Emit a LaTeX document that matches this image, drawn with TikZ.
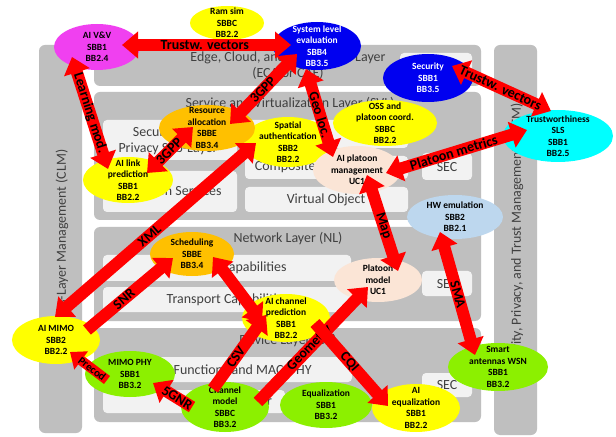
\documentclass[tikz,border=0pt]{standalone}
\usepackage{fontspec}
\setmainfont{Carlito}
\usetikzlibrary{arrows.meta,shapes.geometric}

\definecolor{panelgray}{RGB}{191,191,191}
\definecolor{celllight}{RGB}{242,242,242}
\definecolor{layink}{RGB}{64,64,64}
\definecolor{cyel}{RGB}{255,255,0}
\definecolor{corange}{RGB}{255,192,0}
\definecolor{cgreen}{RGB}{140,240,0}
\definecolor{cblue}{RGB}{0,0,240}
\definecolor{cmag}{RGB}{240,64,240}
\definecolor{ccyan}{RGB}{0,255,255}
\definecolor{cpeach}{RGB}{251,229,214}
\definecolor{cltblue}{RGB}{189,215,238}
\definecolor{cred}{RGB}{255,0,0}

\begin{document}
\begin{tikzpicture}[x=1bp, y=-1bp,
  panel/.style={fill=panelgray, rounded corners=6bp},
  cell/.style={fill=celllight, rounded corners=4bp},
  laytext/.style={text=layink, font=\fontsize{14}{16}\selectfont, align=center, inner sep=0pt},
  ell/.style={ellipse, draw=none, inner sep=0pt},
  ntext/.style={font=\fontsize{9.5}{11.5}\selectfont\bfseries, align=center, inner sep=0pt},
  link/.style={draw=cred, line width=12bp},
  twoway/.style={link, {Triangle[width=26bp,length=16bp]}-{Triangle[width=26bp,length=16bp]}},
  oneway/.style={link, -{Triangle[width=26bp,length=16bp]}},
  arrtag/.style={font=\fontsize{14}{14}\selectfont\bfseries, sloped, inner sep=0pt, text=black},
]
\fill[white] (0,0) rectangle (616,437);
\useasboundingbox (0,0) rectangle (616,437);

% ---- side management columns ----
\fill[panel] (39,45) rectangle (82,433);
\fill[panel] (494,45) rectangle (537,435);
\node[laytext, rotate=90] (clm) at (62,240) {Cross-Layer Management (CLM)};
\node[laytext, rotate=90] (sptm) at (517,240) {Security, Privacy, and Trust Management (SPTM)};

% ---- edge / cloud / application layer ----
\fill[panel] (94,45) rectangle (481,86);
\fill[cell] (400,53) rectangle (472,83);
\node[laytext] (eca) at (288,66) {Edge, Cloud, and Application Layer\\(ECA or CAE)};

% ---- service and virtualization layer ----
\fill[panel] (94,92) rectangle (481,220);
\node[laytext] (svl) at (290,104) {Service and Virtualization Layer (SVL)};
\fill[cell] (103,120) rectangle (237,160);
\node[laytext] (spsl) at (168,141) {Security and\\Privacy Sub-Layer};
\fill[cell] (103,171) rectangle (237,212);
\node[laytext] (aps) at (165,192) {Application Services};
\fill[cell] (245,120) rectangle (408,148);
\fill[cell] (245,156) rectangle (408,179);
\node[laytext] (cvo) at (326,167) {Composite Virtual Object};
\fill[cell] (245,187) rectangle (408,212);
\node[laytext] (vo) at (326,200) {Virtual Object};
\fill[cell] (422,153) rectangle (472,180);
\node[laytext] (sec1) at (447,167) {SEC};

% ---- network layer ----
\fill[panel] (94,227) rectangle (481,321);
\node[laytext] (nl) at (288,239) {Network Layer (NL)};
\fill[cell] (103,255) rectangle (351,281);
\node[laytext] (ncap) at (228,268) {Network Capabilities};
\fill[cell] (103,287) rectangle (351,312);
\node[laytext] (tcap) at (228,300) {Transport Capabilities};
\fill[cell] (422,271) rectangle (472,296);
\node[laytext] (sec2) at (447,284) {SEC};

% ---- device layer ----
\fill[panel] (94,328) rectangle (481,422);
\node[laytext] (dl) at (288,341) {Device Layer (DL)};
\fill[cell] (103,357) rectangle (352,382);
\node[laytext] (fmac) at (225,370) {Radio Functions and MAC/PHY};
\fill[cell] (103,390) rectangle (285,413);
\node[laytext] (trx) at (240,401) {Transceiver};
\fill[cell] (422,373) rectangle (472,397);
\node[laytext] (sec3) at (447,385) {SEC};

% ---- building blocks ----
\node[ell, fill=cmag, minimum width=86bp, minimum height=46bp] (avv) at (97,47) {};
\node[ntext] (avv-t) at (avv) {AI V\&V\\SBB1\\BB2.4};
\node[ell, fill=cyel, minimum width=74bp, minimum height=34bp] (ram) at (227,23) {};
\node[ntext] (ram-t) at (ram) {Ram sim\\SBBC\\BB2.2};
\node[ell, fill=cblue, minimum width=88bp, minimum height=48bp] (sle) at (317,46) {};
\node[ntext, text=white] (sle-t) at (sle) {System level\\evaluation\\SBB4\\BB3.5};
\node[ell, fill=cblue, minimum width=90bp, minimum height=48bp] (secu) at (428,78) {};
\node[ntext, text=white] (secu-t) at (secu) {Security\\SBB1\\BB3.5};
\node[ell, fill=ccyan, minimum width=110bp, minimum height=52bp] (tws) at (558,136) {};
\node[ntext] (tws-t) at (tws) {Trustworthiness\\SLS\\SBB1\\BB2.5};
\node[ell, fill=cyel, minimum width=90bp, minimum height=50bp] (spa) at (288,142) {};
\node[ntext] (spa-t) at (spa) {Spatial\\authentication\\SBB2\\BB2.2};
\node[ell, fill=corange, minimum width=96bp, minimum height=46bp] (res) at (207,128) {};
\node[ntext] (res-t) at (res) {Resource\\allocation\\SBBE\\BB3.4};
\node[ell, fill=cyel, minimum width=104bp, minimum height=46bp] (oss) at (385,123) {};
\node[ntext] (oss-t) at (oss) {OSS and\\platoon coord.\\SBBC\\BB2.2};
\node[ell, fill=cyel, minimum width=90bp, minimum height=46bp] (ail) at (128,180) {};
\node[ntext] (ail-t) at (ail) {AI link\\prediction\\SBB1\\BB2.2};
\node[ell, fill=cpeach, minimum width=88bp, minimum height=48bp] (apm) at (357,170) {};
\node[ntext] (apm-t) at (apm) {AI platoon\\management\\UC1};
\node[ell, fill=cltblue, minimum width=96bp, minimum height=44bp] (hwe) at (455,217) {};
\node[ntext] (hwe-t) at (hwe) {HW emulation\\SBB2\\BB2.1};
\node[ell, fill=corange, minimum width=84bp, minimum height=44bp] (sch) at (192,254) {};
\node[ntext] (sch-t) at (sch) {Scheduling\\SBBE\\BB3.4};
\node[ell, fill=cpeach, minimum width=88bp, minimum height=44bp] (plm) at (378,280) {};
\node[ntext] (plm-t) at (plm) {Platoon\\model\\UC1};
\node[ell, fill=cyel, minimum width=88bp, minimum height=48bp] (acp) at (286,318) {};
\node[ntext] (acp-t) at (acp) {AI channel\\prediction\\SBB1\\BB2.2};
\node[ell, fill=cyel, minimum width=88bp, minimum height=48bp] (mim) at (56,340) {};
\node[ntext] (mim-t) at (mim) {AI MIMO\\SBB2\\BB2.2};
\node[ell, fill=cgreen, minimum width=90bp, minimum height=46bp] (mph) at (130,374) {};
\node[ntext] (mph-t) at (mph) {MIMO PHY\\SBB1\\BB3.2};
\node[ell, fill=cgreen, minimum width=88bp, minimum height=50bp] (chm) at (225,407) {};
\node[ntext] (chm-t) at (chm) {Channel\\model\\SBBC\\BB3.2};
\node[ell, fill=cgreen, minimum width=92bp, minimum height=46bp] (equ) at (326,405) {};
\node[ntext] (equ-t) at (equ) {Equalization\\SBB1\\BB3.2};
\node[ell, fill=cyel, minimum width=88bp, minimum height=48bp] (aeq) at (416,408) {};
\node[ntext] (aeq-t) at (aeq) {AI\\equalization\\SBB1\\BB2.2};
\node[ell, fill=cgreen, minimum width=100bp, minimum height=48bp] (sma) at (498,367) {};
\node[ntext] (sma-t) at (sma) {Smart\\antennas WSN\\SBB1\\BB3.2};

% ---- data exchanges ----
\draw[twoway] ([shift={(25,-2)}]avv.center) -- node[arrtag, pos=.49] {Trustw. vectors} ([shift={(-26,-1)}]sle.center);
\draw[twoway] ([shift={(-25,10)}]avv.center) -- node[arrtag, pos=.5] {Learning mod.} ([shift={(-20,-11)}]ail.center);
\draw[twoway] ([shift={(-20,8)}]sle.center) -- node[arrtag, pos=.51] {3GPP} ([shift={(23,-4)}]res.center);
\draw[twoway] ([shift={(-14,-1)}]res.center) -- node[arrtag, pos=.52] {3GPP} ([shift={(19,-7)}]ail.center);
\draw[twoway] ([shift={(-11,23)}]sle.center) -- node[arrtag, pos=.52] {Geo loc.} ([shift={(-24,-13)}]apm.center);
\draw[twoway] ([shift={(24,-12)}]secu.center) -- node[arrtag, pos=.49] {Trustw. vectors} ([shift={(-7,-25)}]tws.center);
\draw[twoway] ([shift={(-31,-6)}]tws.center) -- node[arrtag, pos=.52] {Platoon metrics} ([shift={(29,3)}]apm.center);
\draw[twoway] ([shift={(10,5)}]apm.center) -- node[arrtag, pos=.53] {Map} ([shift={(20,-9)}]plm.center);
\draw[twoway] ([shift={(-15,15)}]hwe.center) -- node[arrtag, pos=.51] {SMA} ([shift={(-23,-12)}]sma.center);
\draw[twoway] ([shift={(-32,1)}]spa.center) -- node[arrtag, pos=.53] {XML} ([shift={(-1,-23)}]mim.center);
\draw[oneway] ([shift={(31,-10)}]mim.center) -- node[arrtag, pos=.43] {SNR} ([shift={(-19,4)}]sch.center);
\draw[twoway] ([shift={(21,3)}]sch.center) -- ([shift={(-24,4)}]acp.center);
\draw[oneway] ([shift={(-12,-18)}]chm.center) -- node[arrtag, pos=.43] {CSV} ([shift={(-20,-3)}]acp.center);
\draw[oneway] ([shift={(33,-5)}]chm.center) -- node[arrtag, pos=.47] {Geometry} ([shift={(-10,7)}]plm.center);
\draw[oneway] ([shift={(29,5)}]acp.center) -- node[arrtag, pos=.47] {CQI} ([shift={(-28,-2)}]aeq.center);
\draw[oneway] ([shift={(-33,0)}]chm.center) -- node[arrtag, pos=.38] {5GNR} ([shift={(23,9)}]mph.center);
\draw[link, line width=10bp, -{Triangle[width=22bp,length=14bp]}] ([shift={(-23,6)}]mph.center) -- node[arrtag, pos=.4, font=\fontsize{11}{11}\selectfont\bfseries] {Precod} ([shift={(14,12)}]mim.center);
\end{tikzpicture}
\end{document}
